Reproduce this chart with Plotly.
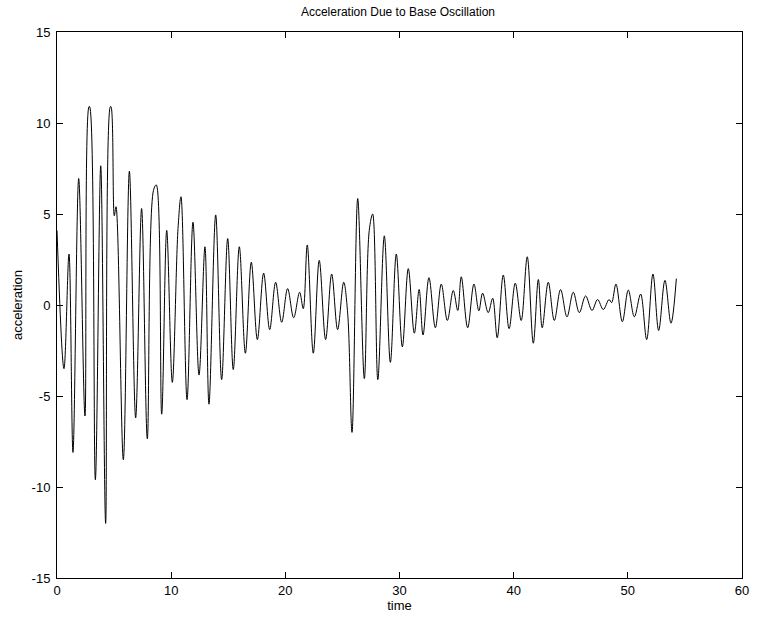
import plotly.graph_objects as go

# extrema / turning points (time, acceleration)
time = [0.0, 0.61, 1.05, 1.40, 1.90, 2.45, 2.80, 2.86, 3.36, 3.83, 4.26, 4.67, 4.73,
        5.02, 5.17, 5.81, 6.34, 6.89, 7.41, 7.91, 8.45, 8.70, 9.17, 9.61, 10.10,
        10.60, 10.86, 11.39, 11.91, 12.44, 12.96, 13.31, 13.90, 14.42, 14.95, 15.44,
        15.97, 16.50, 17.02, 17.55, 18.10, 18.63, 19.15, 19.68, 20.20, 20.73, 21.25,
        21.57, 21.92, 22.45, 22.97, 23.53, 24.06, 24.58, 25.11, 25.46, 25.84, 26.34,
        26.92, 27.35, 27.65, 28.10, 28.67, 29.20, 29.72, 30.25, 30.77, 31.30, 31.72,
        32.06, 32.58, 33.14, 33.66, 34.19, 34.71, 35.10, 35.41, 35.97, 36.52, 36.95,
        37.28, 37.77, 38.16, 38.56, 39.09, 39.60, 40.14, 40.66, 41.19, 41.72, 42.16,
        42.50, 43.03, 43.56, 44.11, 44.67, 45.22, 45.75, 46.30, 46.86, 47.35, 47.85,
        48.35, 48.58, 48.96, 49.52, 50.04, 50.57, 51.12, 51.65, 52.20, 52.70, 53.25,
        53.78, 54.25]
accel = [4.1, -3.5, 2.8, -8.1, 6.95, -6.1, 10.9, 10.9, -9.6, 7.65, -12.0, 10.9, 10.9,
         4.9, 5.4, -8.5, 7.35, -6.2, 5.3, -7.35, 6.3, 6.6, -6.0, 4.1, -4.25,
         4.2, 5.95, -5.2, 4.55, -3.85, 3.2, -5.45, 4.95, -4.1, 3.65, -3.55,
         3.2, -2.65, 2.35, -1.9, 1.75, -1.35, 1.25, -0.95, 0.9, -0.7, 0.7,
         -0.2, 3.3, -2.65, 2.45, -1.9, 1.7, -1.35, 1.25, -0.45, -7.0, 5.85,
         -4.05, 4.1, 5.0, -4.1, 3.8, -3.15, 2.8, -2.3, 2.0, -1.55, 0.85,
         -1.65, 1.5, -1.25, 1.15, -0.85, 0.8, -0.3, 1.55, -1.25, 1.15, -0.32,
         0.65, -0.42, 0.37, -1.8, 1.65, -1.3, 1.2, -0.85, 2.65, -2.1, 1.4,
         -1.25, 1.25, -0.85, 0.85, -0.65, 0.7, -0.42, 0.5, -0.3, 0.3, -0.25,
         0.3, 0.13, 1.15, -0.92, 0.82, -0.65, 0.6, -1.9, 1.7, -1.4, 1.35,
         -1.0, 1.45]

x_ticks = [0, 10, 20, 30, 40, 50, 60]
y_ticks = [-15, -10, -5, 0, 5, 10, 15]

font = "Liberation Sans, Arial, Helvetica, sans-serif"

fig = go.Figure()
fig.add_trace(go.Scatter(x=time, y=accel, mode="lines",
                         line=dict(color="black", width=1, shape="spline", smoothing=1.0),
                         showlegend=False, hoverinfo="skip"))

axis_common = dict(showline=True, linecolor="black", linewidth=1, mirror="ticks",
                   ticks="inside", ticklen=6, tickcolor="black", tickwidth=1,
                   showgrid=False, zeroline=False, automargin=False,
                   tickfont=dict(family=font, size=13, color="black"))

fig.update_xaxes(range=[0, 60], tickvals=x_ticks, ticktext=[str(v) for v in x_ticks],
                 title=dict(text="time", font=dict(family=font, size=13, color="black"), standoff=0),
                 **axis_common)
fig.update_yaxes(range=[-15, 15], tickvals=y_ticks, ticktext=[str(v) for v in y_ticks],
                 ticklabelstandoff=3,
                 title=dict(text="acceleration", font=dict(family=font, size=13, color="black"), standoff=6),
                 **axis_common)

fig.update_layout(
    width=758, height=618,
    margin=dict(l=57, r=16, t=32, b=40, autoexpand=False),
    paper_bgcolor="white", plot_bgcolor="white",
    title=dict(text="Acceleration Due to Base Oscillation", x=0.525, xanchor="center",
               y=0.988, yanchor="top",
               font=dict(family=font, size=12, color="black")),
)

fig.write_html("out.html", config={"displayModeBar": False},
               post_script="document.body.style.margin='0';document.body.style.overflow='hidden';")
